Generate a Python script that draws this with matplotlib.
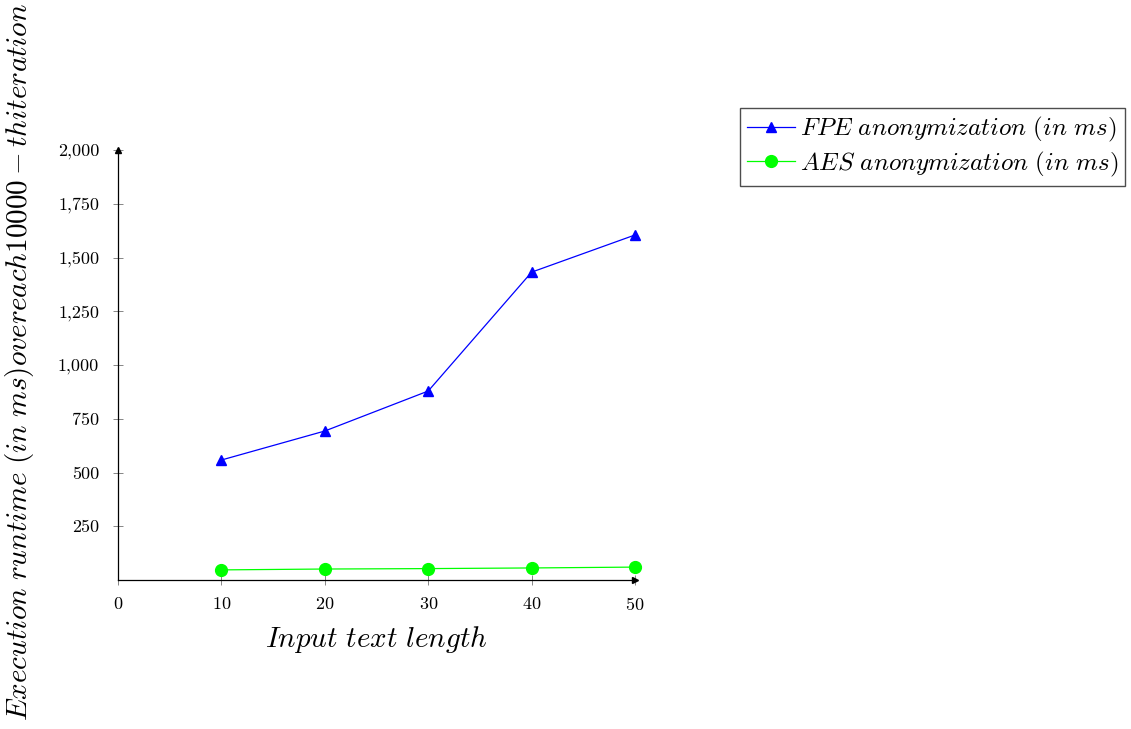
import numpy as np
import matplotlib.pyplot as plt
from matplotlib.ticker import FuncFormatter

plt.rcParams.update({
    'font.family': 'serif',
    'font.serif': ['cmr10'],
    'mathtext.fontset': 'cm',
    'axes.formatter.use_mathtext': True,
})

#
# data
text_length = [10, 20, 30, 40, 50]
fpe_ms = [558, 693, 879, 1432, 1605]
aes_ms = [47, 51, 53, 56, 60]
yticks = [250, 500, 750, 1000, 1250, 1500, 1750, 2000]
xticks = [0, 10, 20, 30, 40, 50]

fig = plt.figure(figsize=(11.31, 7.29), dpi=100)
ax = fig.add_axes([0.1043, 0.2044, 0.4572, 0.5898])

ax.plot(text_length, fpe_ms, color='blue', lw=0.9, marker='^', ms=7,
        clip_on=False, zorder=3, label=r'$FPE\ anonymization\ (in\ ms)$')
ax.plot(text_length, aes_ms, color='#00ff00', lw=0.9, marker='o', ms=8.5,
        clip_on=False, zorder=3, label=r'$AES\ anonymization\ (in\ ms)$')

ax.set_xlim(0, 50)
ax.set_ylim(0, 2000)
ax.set_xticks(xticks)
ax.set_yticks(yticks)
ax.yaxis.set_major_formatter(FuncFormatter(lambda v, p: f'{int(v):,}'))
ax.tick_params(direction='inout', length=7, width=0.6, color='0.45',
               labelsize=13)
ax.tick_params(axis='x', pad=8)
ax.tick_params(axis='y', pad=10)

# pgfplots style axis lines with arrow heads
for s in ['top', 'right']:
    ax.spines[s].set_visible(False)
for s in ['left', 'bottom']:
    ax.spines[s].set_linewidth(0.9)
ax.plot(1, 0, '>k', ms=5, transform=ax.get_yaxis_transform(), clip_on=False)
ax.plot(0, 1, '^k', ms=5, transform=ax.get_xaxis_transform(), clip_on=False)

ax.set_xlabel(r'$Input\ text\ length$', fontsize=21, labelpad=8)
ax.set_ylabel(r'$Execution\ runtime\ (in\ ms) overeach10000-thiteration$',
              fontsize=21)
ax.yaxis.set_label_coords(-0.158, 0.507)

fig.legend(loc='upper left', bbox_to_anchor=(0.654, 0.852), fontsize=18,
           numpoints=1, fancybox=False, edgecolor='0.3', framealpha=1,
           handlelength=1.9, handletextpad=0.2, borderpad=0.3,
           labelspacing=0.2, borderaxespad=0)

fig.savefig('out.png', dpi=100)
